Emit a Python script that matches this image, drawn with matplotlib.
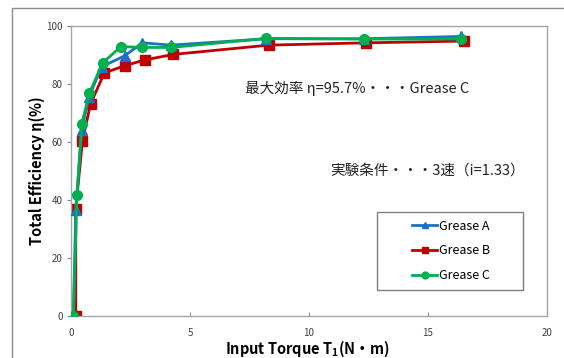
import matplotlib
matplotlib.use("Agg")
import matplotlib.pyplot as plt
from matplotlib.patches import Rectangle

plt.rcParams['font.family'] = ['Noto Sans CJK JP', 'DejaVu Sans']

# ---- data ----
torque_a = [0.1, 0.2, 0.45, 0.75, 1.3, 2.25, 3.0, 4.2, 8.2, 12.3, 16.4]
eff_a = [0.0, 36.5, 64.0, 75.6, 86.0, 89.7, 94.2, 93.4, 95.6, 95.6, 96.4]

torque_b = [0.2, 0.2, 0.48, 0.82, 1.4, 2.25, 3.1, 4.3, 8.3, 12.4, 16.5]
eff_b = [0.0, 37.0, 60.3, 73.1, 83.8, 86.3, 88.3, 90.2, 93.4, 94.2, 94.8]

torque_c = [0.1, 0.25, 0.45, 0.77, 1.33, 2.1, 3.0, 4.2, 8.2, 12.3, 16.4]
eff_c = [0.0, 41.7, 66.2, 76.8, 87.3, 92.9, 92.6, 92.6, 95.7, 95.5, 95.5]

x_ticks = [0, 5, 10, 15, 20]
y_ticks = [0, 20, 40, 60, 80, 100]

W, H = 564, 358
fig = plt.figure(figsize=(W / 100, H / 100), dpi=100)
ax = fig.add_axes([71 / W, 1 - 316 / H, (547 - 71) / W, (316 - 26) / H])


def fx(px):
    return px / W


def fy(py):
    return 1 - py / H


# outer chart frame (cut off on the right/bottom like the source)
fig.patches.append(Rectangle((fx(12), -0.05), 1.2, fy(8) + 0.05,
                             transform=fig.transFigure, fill=False,
                             edgecolor='#8c8c8c', linewidth=1.0))

ax.plot(torque_a, eff_a, color='#1f6fc5', lw=2, marker='^', ms=7,
        label='Grease A', zorder=3)
ax.plot(torque_b, eff_b, color='#c00000', lw=2, marker='s', ms=7,
        label='Grease B', zorder=2)
ax.plot(torque_c, eff_c, color='#00b050', lw=2, marker='o', ms=7,
        label='Grease C', zorder=4)

ax.set_xlim(0, 20)
ax.set_ylim(0, 100)
ax.set_xticks(x_ticks)
ax.set_yticks(y_ticks)
ax.tick_params(axis='x', direction='in', length=3, color='#8c8c8c',
               labelsize=7, labelcolor='#404040', pad=9)
ax.tick_params(axis='y', direction='out', length=3, color='#8c8c8c',
               labelsize=7, labelcolor='#404040', pad=3)
for s in ax.spines.values():
    s.set_color('#a6a6a6')
    s.set_linewidth(1.0)

ax.set_xlabel('Input Torque T$_\\mathregular{1}$(N・m)', fontsize=10.5,
              fontweight='bold')
ax.xaxis.set_label_coords((307 - 71) / 476, -(349 - 316) / 290)
ax.xaxis.label.set_va('center')
ax.set_ylabel('Total Efficiency η(%)', fontsize=10.5, fontweight='bold')
ax.yaxis.set_label_coords(-(71 - 37) / 476, 0.5)
ax.yaxis.label.set_va('center')

fig.text(fx(245), fy(88), '最大効率 η=95.7%・・・Grease C',
         fontsize=10.5, color='#222222', va='center', ha='left')
fig.text(fx(330), fy(171), '実験条件・・・3速（i=1.33）', fontsize=10.5,
         color='#222222', va='center', ha='left')

# legend box drawn separately so it can be wider than its content
box = Rectangle((fx(377), fy(290)), fx(523) - fx(377), fy(212) - fy(290),
                transform=fig.transFigure, facecolor='white',
                edgecolor='#7f7f7f', linewidth=1.0, zorder=5, clip_on=False)
ax.add_patch(box)
leg = ax.legend(loc='center', bbox_to_anchor=((451 - 71) / 476, (316 - 251) / 290),
                fontsize=9, frameon=False, handlelength=2.0, markerscale=0.7,
                handletextpad=0.15, labelspacing=0.95, borderpad=0)
leg.set_zorder(6)

fig.savefig('out.png', dpi=100)
